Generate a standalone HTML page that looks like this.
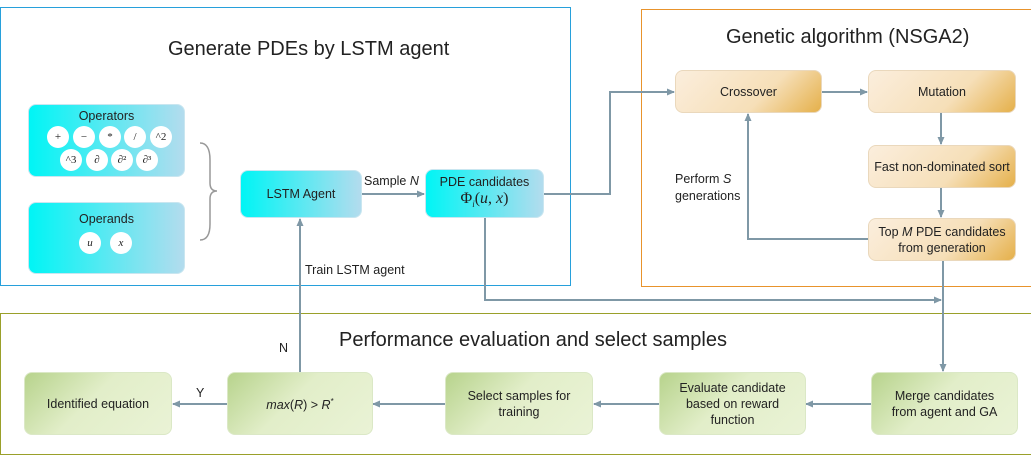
<!DOCTYPE html>
<html><head><meta charset="utf-8"><style>
body{margin:0;width:1031px;height:437px;background:#fff;position:relative;overflow:hidden;font-family:"Liberation Sans",sans-serif;color:#222}
.a{position:absolute}
.box{position:absolute;display:flex;align-items:center;justify-content:center;text-align:center;font-size:12.5px;line-height:16px;border-radius:8px;box-sizing:border-box}
.cy{background:linear-gradient(90deg,#00f5f5,#b3dcee);border:1px solid #c9e6f0}
.or{background:linear-gradient(135deg,#fbeedd 0%,#f6dfb8 60%,#e5b04a 100%);border:1px solid #ead8bc}
.gr{background:linear-gradient(135deg,#b7d38c 0%,#e2eec9 45%,#eaf3d6 100%);border:1px solid #dbe8c6}
.c{position:absolute;width:22px;height:22px;border-radius:50%;background:#fff;font-size:11px;display:flex;align-items:center;justify-content:center;font-family:"Liberation Serif",serif}
.t{position:absolute;font-size:12.5px;white-space:nowrap}
</style></head><body>
<div class="a" style="left:0;top:7px;width:569px;height:277px;border:1.5px solid #27a0db"></div>
<div class="a" style="left:641px;top:9px;width:400px;height:276px;border:1.5px solid #e8932c"></div>
<div class="a" style="left:0;top:313px;width:1040px;height:140px;border:1.5px solid #9aa02a"></div>
<div class="t" style="left:168px;top:38px;font-size:20px">Generate PDEs by LSTM agent</div>
<div class="t" style="left:726px;top:26px;font-size:20px">Genetic algorithm (NSGA2)</div>
<div class="t" style="left:339px;top:329px;font-size:20px">Performance evaluation and select samples</div>

<div class="box cy" style="left:28px;top:104px;width:157px;height:73px;align-items:flex-start;padding-top:3px">Operators</div>
<div class="c" style="left:47px;top:126px">+</div><div class="c" style="left:73px;top:126px">−</div><div class="c" style="left:99px;top:126px">*</div><div class="c" style="left:124px;top:126px">/</div><div class="c" style="left:150px;top:126px">^2</div>
<div class="c" style="left:60px;top:149px">^3</div><div class="c" style="left:86px;top:149px">∂</div><div class="c" style="left:111px;top:149px">∂²</div><div class="c" style="left:136px;top:149px">∂³</div>
<div class="box cy" style="left:28px;top:202px;width:157px;height:72px;align-items:flex-start;padding-top:8px">Operands</div>
<div class="c" style="left:79px;top:232px;font-style:italic">u</div><div class="c" style="left:110px;top:232px;font-style:italic">x</div>
<svg class="a" style="left:0;top:0" width="1031" height="437">
<defs><marker id="m" markerWidth="8" markerHeight="8" refX="7" refY="4" orient="auto" markerUnits="userSpaceOnUse"><path d="M0,0.5 L8,4 L0,7.5z" fill="#7f98a6"/></marker></defs>
<g stroke="#7f98a6" stroke-width="2" fill="none">
<path d="M200,143 Q210,143 210,160 L210,183 Q210,191 217,191 Q210,191 210,199 L210,224 Q210,240 200,240" stroke="#999" stroke-width="1.5"/>
<path d="M362,194 L424,194" marker-end="url(#m)"/>
<path d="M544,194 L610,194 L610,92 L674,92" marker-end="url(#m)"/>
<path d="M822,92 L867,92" marker-end="url(#m)"/>
<path d="M941,113 L941,144" marker-end="url(#m)"/>
<path d="M941,188 L941,217" marker-end="url(#m)"/>
<path d="M868,239 L748,239 L748,114" marker-end="url(#m)"/>
<path d="M943,261 L943,371" marker-end="url(#m)"/>
<path d="M485,218 L485,300 L941,300" marker-end="url(#m)"/>
<path d="M871,404 L806,404" marker-end="url(#m)"/>
<path d="M659,404 L594,404" marker-end="url(#m)"/>
<path d="M445,404 L373,404" marker-end="url(#m)"/>
<path d="M227,404 L173,404" marker-end="url(#m)"/>
<path d="M300,372 L300,219" marker-end="url(#m)"/>
</g></svg>
<div class="box cy" style="left:240px;top:170px;width:122px;height:48px">LSTM Agent</div>
<div class="box cy" style="left:425px;top:169px;width:119px;height:49px;flex-direction:column">PDE candidates<span style="font-family:'Liberation Serif',serif;font-size:16px;line-height:18px">Φ<sub style="font-size:9px;font-style:italic">i</sub>(<i>u</i>, <i>x</i>)</span></div>
<div class="t" style="left:364px;top:174px">Sample <i>N</i></div>
<div class="t" style="left:305px;top:263px">Train LSTM agent</div>
<div class="box or" style="left:675px;top:70px;width:147px;height:43px">Crossover</div>
<div class="box or" style="left:868px;top:70px;width:148px;height:43px">Mutation</div>
<div class="box or" style="left:868px;top:145px;width:148px;height:43px">Fast non-dominated sort</div>
<div class="box or" style="left:868px;top:218px;width:148px;height:43px"><span>Top <i>M</i> PDE candidates<br>from generation</span></div>
<div class="t" style="left:675px;top:171px;line-height:17px">Perform <i>S</i><br>generations</div>
<div class="t" style="left:279px;top:341px">N</div>
<div class="t" style="left:196px;top:386px">Y</div>
<div class="box gr" style="left:24px;top:372px;width:148px;height:63px">Identified equation</div>
<div class="box gr" style="left:227px;top:372px;width:146px;height:63px"><span><i>max</i>(<i>R</i>) &gt; <i>R</i><sup style="font-size:8px">*</sup></span></div>
<div class="box gr" style="left:445px;top:372px;width:148px;height:63px">Select samples for<br>training</div>
<div class="box gr" style="left:659px;top:372px;width:147px;height:63px">Evaluate candidate<br>based on reward<br>function</div>
<div class="box gr" style="left:871px;top:372px;width:147px;height:63px">Merge candidates<br>from agent and GA</div>
</body></html>
